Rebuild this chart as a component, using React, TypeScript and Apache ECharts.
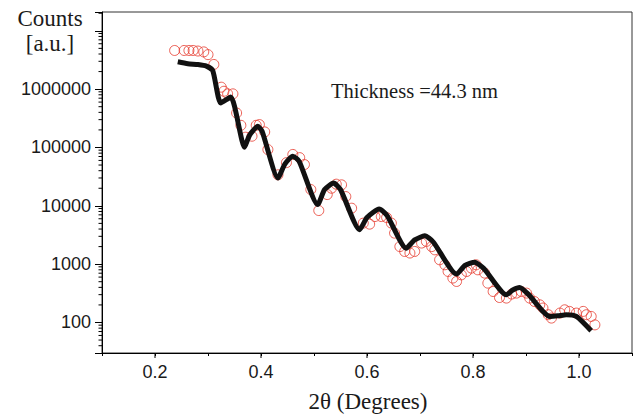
import React, { useEffect, useRef } from 'react';
import * as echarts from 'echarts';

// Fitted curve (black line)
const xFit = [0.243, 0.262, 0.281, 0.297, 0.309, 0.324, 0.343, 0.369, 0.378, 0.394, 0.402, 0.432, 0.445, 0.46, 0.472, 0.507, 0.52, 0.537, 0.55, 0.586, 0.6, 0.623, 0.638, 0.674, 0.69, 0.709, 0.725, 0.769, 0.785, 0.803, 0.82, 0.863, 0.875, 0.888, 0.905, 0.945, 0.96, 0.976, 0.995, 1.023];
const yFit = [2.94e6, 2.72e6, 2.64e6, 2.48e6, 2.08e6, 5.8e5, 7.3e5, 1.01e5, 1.6e5, 2.3e5, 1.9e5, 3.0e4, 5.2e4, 7.1e4, 5.8e4, 1.05e4, 1.9e4, 2.45e4, 1.9e4, 3.9e3, 6.3e3, 8.8e3, 6.8e3, 1.88e3, 2.6e3, 3.06e3, 2.4e3, 675, 950, 1080, 850, 299, 360, 398, 300, 127, 130, 136, 127, 72];

// Measured data (red open circles)
const xObs = [0.237, 0.255, 0.264, 0.272, 0.281, 0.292, 0.3, 0.311, 0.325, 0.33, 0.337, 0.347, 0.354, 0.362, 0.371, 0.383, 0.391, 0.397, 0.407, 0.413, 0.432, 0.448, 0.46, 0.473, 0.482, 0.494, 0.509, 0.525, 0.533, 0.542, 0.552, 0.56, 0.571, 0.593, 0.605, 0.615, 0.627, 0.637, 0.646, 0.652, 0.662, 0.671, 0.681, 0.69, 0.703, 0.712, 0.722, 0.728, 0.737, 0.747, 0.753, 0.762, 0.769, 0.778, 0.788, 0.797, 0.806, 0.809, 0.822, 0.828, 0.838, 0.85, 0.863, 0.873, 0.882, 0.891, 0.901, 0.907, 0.916, 0.926, 0.932, 0.942, 0.948, 0.964, 0.973, 0.982, 0.995, 1.008, 1.014, 1.023, 1.03];
const yObs = [4.6e6, 4.6e6, 4.6e6, 4.6e6, 4.5e6, 4.35e6, 3.9e6, 2.65e6, 1.08e6, 9.2e5, 8.3e5, 8.3e5, 3.9e5, 2.4e5, 1.5e5, 1.56e5, 2.4e5, 2.47e5, 1.85e5, 9.2e4, 3.4e4, 5.5e4, 7.6e4, 6.7e4, 5.1e4, 1.9e4, 8.3e3, 1.56e4, 2.0e4, 2.35e4, 2.29e4, 1.44e4, 9.1e3, 5.05e3, 4.85e3, 6.55e3, 6.55e3, 6.3e3, 5.05e3, 3.4e3, 2.0e3, 1.65e3, 1.55e3, 1.65e3, 2.3e3, 2.45e3, 2.0e3, 1.76e3, 1.19e3, 975, 750, 577, 505, 656, 748, 855, 975, 800, 703, 473, 340, 268, 262, 307, 319, 340, 319, 262, 229, 201, 177, 136, 119, 145, 165, 155, 145, 155, 136, 127, 91];

const xTickLabels = ['0.2', '0.4', '0.6', '0.8', '1.0'];
const yTickLabels = ['100', '1000', '10000', '100000', '1000000'];
const yDecades = [10, 100, 1000, 10000, 100000, 1000000, 10000000];
const minorSteps = [2, 3, 4, 5, 6, 7, 8, 9];

const X_MIN = 0.1;
const X_MAX = 1.1;
const Y_MIN = 30;
const Y_MAX = 2.1e7;

export default function App() {
  const ref = useRef<HTMLDivElement>(null);
  useEffect(() => {
    const chart = echarts.init(ref.current as HTMLDivElement, null, { renderer: 'svg' });
    const serif = "'Liberation Serif', 'Times New Roman', serif";
    const sans = "'Liberation Sans', Arial, Helvetica, sans-serif";

    const yMinor: number[][] = [];
    yDecades.forEach((d) =>
      minorSteps.forEach((k) => {
        const v = d * k;
        if (v > Y_MIN && v < Y_MAX) yMinor.push([X_MIN, v]);
      })
    );
    const xMajor = xTickLabels.map((l) => [Number(l), Y_MIN]);

    chart.setOption({
      animation: false,
      backgroundColor: '#fff',
      grid: {
        left: 102,
        top: 12,
        right: 2,
        bottom: 62,
        show: true,
        borderColor: '#333',
        borderWidth: 1,
        backgroundColor: 'transparent',
      },
      xAxis: {
        type: 'value',
        min: X_MIN,
        max: X_MAX,
        interval: 0.1,
        axisLine: { show: true, lineStyle: { color: '#000', width: 1 } },
        axisTick: { show: true, length: 3, lineStyle: { color: '#000' } },
        axisLabel: {
          margin: 10,
          fontFamily: sans,
          fontSize: 18,
          color: '#1a1a1a',
          formatter: (v: number) => {
            const s = Number(v).toFixed(1);
            return xTickLabels.indexOf(s) >= 0 ? s : '';
          },
        },
        splitLine: { show: false },
      },
      yAxis: {
        type: 'log',
        logBase: 10,
        min: Y_MIN,
        max: Y_MAX,
        axisLine: { show: true, lineStyle: { color: '#000', width: 1 } },
        axisTick: { show: true, length: 7, lineStyle: { color: '#000' } },
        axisLabel: {
          margin: 11,
          fontFamily: sans,
          fontSize: 18,
          color: '#1a1a1a',
          formatter: (v: number) => {
            const s = String(Math.round(v));
            return yTickLabels.indexOf(s) >= 0 ? s : '';
          },
        },
        splitLine: { show: false },
      },
      series: [
        {
          type: 'custom',
          clip: false,
          silent: true,
          data: yMinor,
          renderItem: (_p: any, api: any) => {
            const p = api.coord([api.value(0), api.value(1)]);
            return {
              type: 'line',
              shape: { x1: p[0] - 3.5, y1: p[1], x2: p[0], y2: p[1] },
              style: { stroke: '#000', lineWidth: 1 },
            };
          },
        },
        {
          type: 'custom',
          clip: false,
          silent: true,
          data: xMajor,
          renderItem: (_p: any, api: any) => {
            const p = api.coord([api.value(0), api.value(1)]);
            return {
              type: 'line',
              shape: { x1: p[0], y1: p[1], x2: p[0], y2: p[1] + 5 },
              style: { stroke: '#000', lineWidth: 1 },
            };
          },
        },
        {
          type: 'scatter',
          symbol: 'circle',
          symbolSize: 10,
          data: xObs.map((x, i) => [x, yObs[i]]),
          itemStyle: { color: 'rgba(0,0,0,0)', borderColor: '#e6392d', borderWidth: 1 },
          z: 2,
        },
        {
          type: 'line',
          data: xFit.map((x, i) => [x, yFit[i]]),
          showSymbol: false,
          smooth: 0.2,
          lineStyle: { color: '#111', width: 5 },
          z: 3,
        },
      ],
      graphic: [
        {
          type: 'text',
          x: 50,
          y: 18,
          style: {
            text: 'Counts',
            fontFamily: serif,
            fontSize: 23,
            fill: '#1a1a1a',
            textAlign: 'center',
            align: 'center',
            textVerticalAlign: 'middle',
            verticalAlign: 'middle',
          },
        },
        {
          type: 'text',
          x: 50,
          y: 43,
          style: {
            text: '[a.u.]',
            fontFamily: serif,
            fontSize: 23,
            fill: '#1a1a1a',
            textAlign: 'center',
            align: 'center',
            textVerticalAlign: 'middle',
            verticalAlign: 'middle',
          },
        },
        {
          type: 'text',
          x: 331,
          y: 91,
          style: {
            text: 'Thickness =44.3 nm',
            fontFamily: serif,
            fontSize: 20.5,
            fill: '#1a1a1a',
            textAlign: 'left',
            align: 'left',
            textVerticalAlign: 'middle',
            verticalAlign: 'middle',
          },
        },
        {
          type: 'text',
          x: 368,
          y: 401,
          style: {
            text: '2θ (Degrees)',
            fontFamily: serif,
            fontSize: 23,
            fill: '#1a1a1a',
            textAlign: 'center',
            align: 'center',
            textVerticalAlign: 'middle',
            verticalAlign: 'middle',
          },
        },
      ],
    });
    return () => chart.dispose();
  }, []);

  return (
    <div
      ref={ref}
      style={{ position: 'fixed', left: 0, top: 0, width: 635, height: 415 }}
    />
  );
}
